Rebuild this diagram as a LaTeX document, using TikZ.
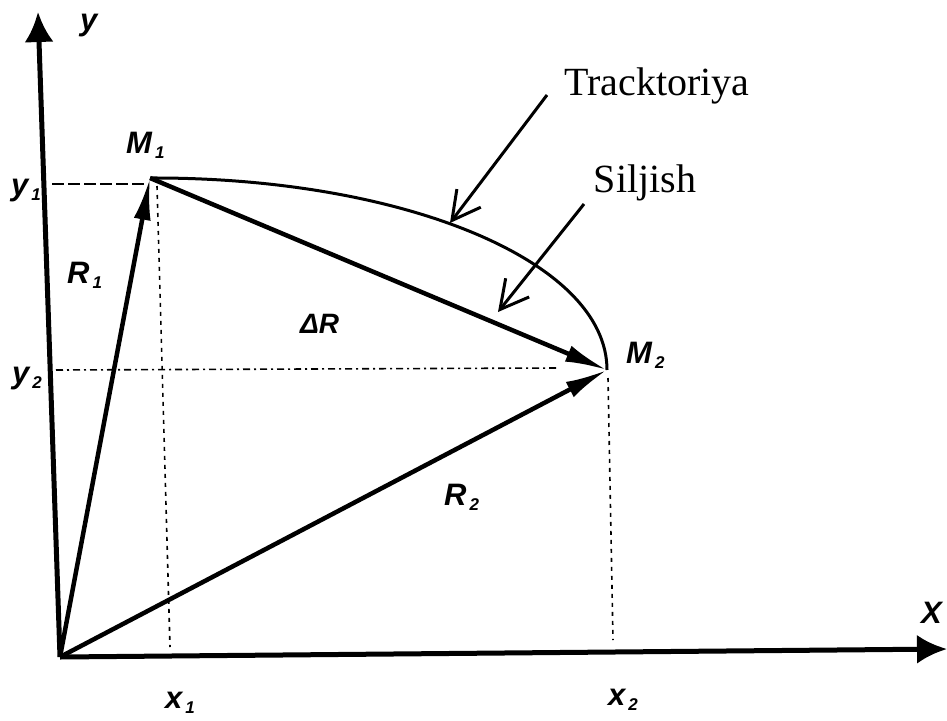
\documentclass[tikz,border=0pt]{standalone}
\usepackage{fontspec}
\setmainfont{Liberation Serif}
\newfontfamily\labfont{Liberation Sans}
\usetikzlibrary{arrows.meta}
\newcommand\sbs[1]{\kern3pt\raisebox{-5pt}{\fontsize{17}{17}\selectfont #1}}
\tikzset{
  axis/.style={line width=5pt,-{Latex[length=30pt,width=29pt]}},
  vec/.style={line width=4.5pt,-{Latex[length=42pt,width=17pt]}},
  traj/.style={line width=3pt},
  pointer/.style={line width=3pt,-{Straight Barb[length=28pt,width=30pt,line width=3pt]}},
  guide/.style={line width=1.6pt,dash pattern=on 7pt off 4pt on 2pt off 4pt},
  guideA/.style={line width=1.8pt,dash pattern=on 12pt off 4pt},
  guideB/.style={line width=1.6pt,dash pattern=on 4pt off 5pt},
  lab/.style={font=\labfont\bfseries\itshape\fontsize{31}{34}\selectfont,inner sep=0pt,anchor=base west},
  word/.style={font=\fontsize{40}{44}\selectfont,inner sep=0pt}
}
\begin{document}
\begin{tikzpicture}[x=1pt,y=-1pt]
\useasboundingbox (0,0) rectangle (947,720);
% points
\coordinate (O) at (60,657);
\coordinate (M1) at (150,178);
\coordinate (M2) at (607,370);
\coordinate (Ytop) at (38,12);
\coordinate (Xend) at (947,649);
\coordinate (Y1s) at (52,184);
\coordinate (Y1e) at (148,184);
\coordinate (Y2s) at (56,370);
\coordinate (Y2e) at (558,368);
\coordinate (X1s) at (157,186);
\coordinate (X1e) at (170,647);
\coordinate (X2s) at (608,378);
\coordinate (X2e) at (613,640);
\coordinate (T0) at (547,95);
\coordinate (T1) at (450,223);
\coordinate (S0) at (584,204);
\coordinate (S1) at (498,312);
% guides
\draw[guideA] (Y1s) -- (Y1e);
\draw[guide] (Y2s) -- (Y2e);
\draw[guideB] (X1s) -- (X1e);
\draw[guideB] (X2s) -- (X2e);
% axes
\draw[axis] (O) -- (Ytop);
\draw[axis] (O) -- (Xend);
% trajectory
\draw[traj] (M1) .. controls (400,177) and (607,260) .. (M2);
% vectors
\draw[vec] (O) -- (M1);
\draw[vec] (O) -- (M2);
\draw[vec] (M1) -- (M2);
% pointers
\draw[pointer] (T0) -- (T1);
\draw[pointer] (S0) -- (S1);
% labels
\node[lab] (ly) at (80,30) {y};
\node[lab] (lX) at (921,623) {X};
\node[lab] (lM1) at (126,153) {M\sbs{1}};
\node[lab] (lM2) at (626,363) {M\sbs{2}};
\node[lab] (ly1) at (11,195) {y\sbs{1}};
\node[lab] (ly2) at (12,383) {y\sbs{2}};
\node[lab] (lR1) at (67,283) {R\sbs{1}};
\node[lab] (lR2) at (444,505) {R\sbs{2}};
\node[lab,font=\labfont\bfseries\itshape\fontsize{28}{30}\selectfont] (lDR) at (300,333) {ΔR};
\node[lab] (lx1) at (165,708) {x\sbs{1}};
\node[lab] (lx2) at (608,705) {x\sbs{2}};
\node[word] (tr) at (657,86) {Tracktoriya};
\node[word] (sil) at (645,183) {Siljish};
\end{tikzpicture}
\end{document}
